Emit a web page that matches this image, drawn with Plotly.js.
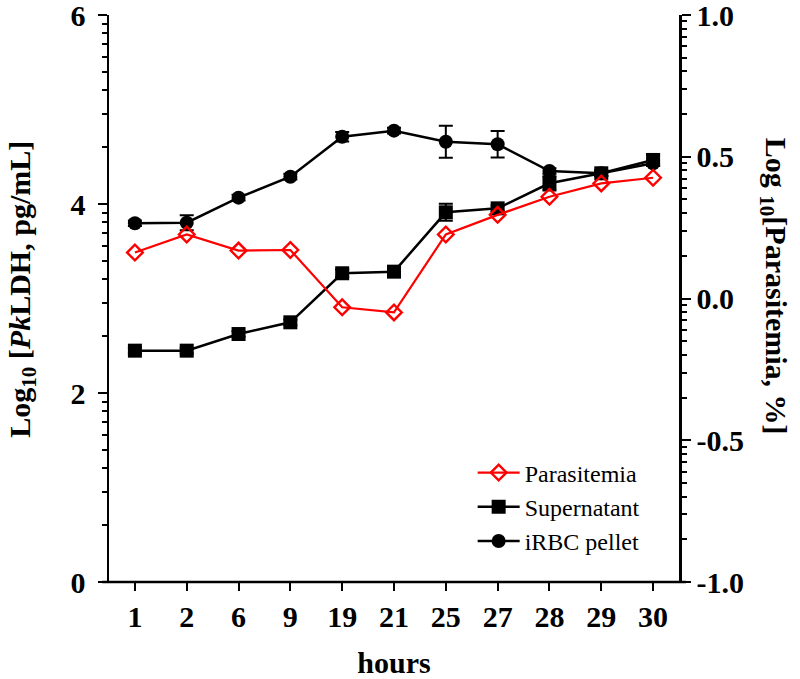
<!DOCTYPE html>
<html>
<head>
<meta charset="utf-8">
<script src="https://cdn.plot.ly/plotly-3.0.1.min.js"></script>
<style>html,body{margin:0;padding:0;background:#fff;}#chart{width:800px;height:679px;}</style>
</head>
<body>
<div id="chart"></div>
<script>
// ---- data ----
const hours = ['1', '2', '6', '9', '19', '21', '25', '27', '28', '29', '30'];
const parasitemia = [0.162, 0.226, 0.169, 0.171, -0.031, -0.049, 0.226, 0.295, 0.359, 0.406, 0.426];
const supernatant = [2.448, 2.448, 2.624, 2.748, 3.267, 3.284, 3.912, 3.954, 4.219, 4.325, 4.466];
const supernatantErr = [0.03, 0.03, 0.03, 0.03, 0.04, 0.03, 0.09, 0.03, 0.075, 0.03, 0.06];
const pellet = [3.796, 3.802, 4.067, 4.289, 4.712, 4.776, 4.659, 4.632, 4.349, 4.325, 4.431];
const pelletErr = [0.03, 0.08, 0.03, 0.03, 0.05, 0.03, 0.17, 0.14, 0.03, 0.03, 0.03];
const leftTickVals = [0, 2, 4, 6];
const leftTickText = ['0', '2', '4', '6'];
const rightTickVals = [-1, -0.5, 0, 0.5, 1];
const rightTickText = ['-1.0', '-0.5', '0.0', '0.5', '1.0'];
const seriesNames = ['Parasitemia', 'Supernatant', 'iRBC pellet'];

// ---- log-style minor ticks inside each major interval ----
function logMinor(majors) {
  const out = [];
  for (let i = 0; i < majors.length - 1; i++) {
    const a = majors[i], span = majors[i + 1] - majors[i];
    for (let k = 2; k <= 9; k++) out.push(a + span * Math.log10(k));
  }
  return out;
}

const serif = 'Liberation Serif, Times New Roman, serif';
const tickFont = {family: serif, size: 30, color: '#000', weight: 'bold'};

const traces = [
  {
    x: hours, y: parasitemia, name: seriesNames[0], yaxis: 'y2', type: 'scatter', mode: 'lines+markers',
    line: {color: '#ff0000', width: 2.2},
    marker: {symbol: 'diamond-open', size: 12, color: '#ff0000', line: {width: 2.4, color: '#ff0000'}}
  },
  {
    x: hours, y: supernatant, name: seriesNames[1], type: 'scatter', mode: 'lines+markers',
    line: {color: '#000', width: 2.5},
    marker: {symbol: 'square', size: 14, color: '#000'},
    error_y: {type: 'data', array: supernatantErr, visible: true, color: '#000', thickness: 2, width: 7}
  },
  {
    x: hours, y: pellet, name: seriesNames[2], type: 'scatter', mode: 'lines+markers',
    line: {color: '#000', width: 2.5},
    marker: {symbol: 'circle', size: 14, color: '#000'},
    error_y: {type: 'data', array: pelletErr, visible: true, color: '#000', thickness: 2, width: 7}
  }
];

const layout = {
  width: 800, height: 679,
  margin: {l: 109, r: 121, t: 15, b: 97},
  paper_bgcolor: '#fff', plot_bgcolor: '#fff',
  showlegend: true,
  legend: {
    x: 0.638, y: 0.232, xanchor: 'left', yanchor: 'top',
    font: {family: serif, size: 24, color: '#000'},
    itemwidth: 42,
    bgcolor: 'rgba(0,0,0,0)', borderwidth: 0
  },
  xaxis: {
    type: 'category', categoryorder: 'array', categoryarray: hours,
    range: [-0.5, 10.5], showgrid: false, zeroline: false, showline: false,
    ticks: 'outside', ticklen: 8, tickwidth: 2, tickcolor: '#000',
    tickfont: tickFont, ticklabeloverflow: 'allow',
    title: {text: 'hours', font: {family: serif, size: 30, color: '#000', weight: 'bold'}, standoff: 26}
  },
  yaxis: {
    range: [0, 6], showgrid: false, zeroline: false,
    showline: true, linecolor: '#000', linewidth: 2.5,
    tickmode: 'array', tickvals: leftTickVals, ticktext: leftTickText,
    ticks: 'outside', ticklen: 9, tickwidth: 2, tickcolor: '#000',
    ticklabelstandoff: 6, ticklabeloverflow: 'allow',
    tickfont: tickFont,
    minor: {tickmode: 'array', tickvals: logMinor(leftTickVals), ticks: 'outside', ticklen: 5, tickwidth: 2, tickcolor: '#000', showgrid: false}
  },
  yaxis2: {
    overlaying: 'y', side: 'right', anchor: 'x',
    range: [-1, 1], showgrid: false, zeroline: false,
    showline: true, linecolor: '#000', linewidth: 2.5,
    tickmode: 'array', tickvals: rightTickVals, ticktext: rightTickText,
    ticks: 'outside', ticklen: 9, tickwidth: 2, tickcolor: '#000',
    ticklabeloverflow: 'allow',
    tickfont: tickFont,
    minor: {tickmode: 'array', tickvals: logMinor(rightTickVals), ticks: 'outside', ticklen: 5, tickwidth: 2, tickcolor: '#000', showgrid: false}
  },
  shapes: [
    {type: 'line', xref: 'paper', yref: 'paper', x0: -0.012, x1: 1.012, y0: 0, y1: 0, line: {color: '#000', width: 2.5}}
  ],
  annotations: [
    {
      text: 'Log<sub>10</sub> [<i>Pk</i>LDH, pg/mL]', xref: 'paper', yref: 'paper',
      x: -0.153, y: 0.517, xanchor: 'center', yanchor: 'middle', textangle: -90, showarrow: false,
      font: {family: serif, size: 30, color: '#000', weight: 'bold'}
    },
    {
      text: 'Log <sub>10</sub>[Parasitemia, %]', xref: 'paper', yref: 'paper',
      x: 1.167, y: 0.522, xanchor: 'center', yanchor: 'middle', textangle: 90, showarrow: false,
      font: {family: serif, size: 30, color: '#000', weight: 'bold'}
    }
  ]
};

Plotly.newPlot('chart', traces, layout, {displayModeBar: false, staticPlot: true});
</script>
</body>
</html>
